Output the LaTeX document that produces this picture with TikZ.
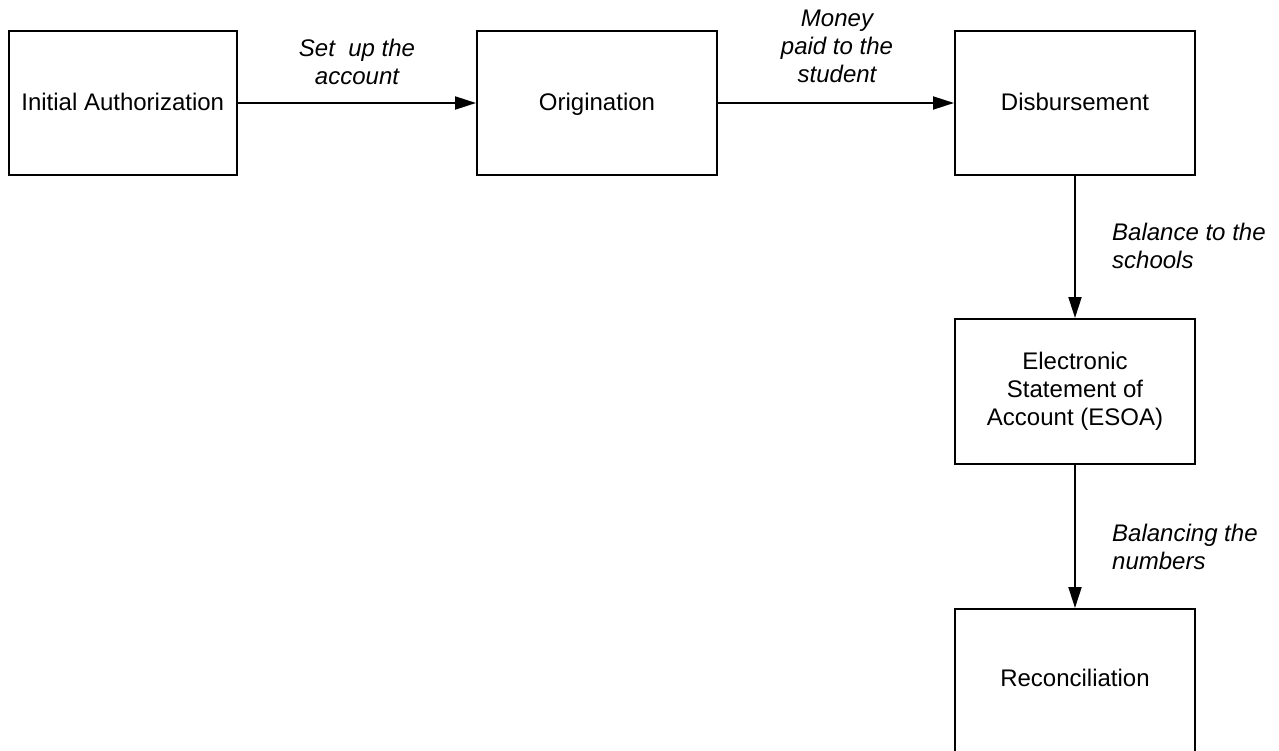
\documentclass[tikz,border=0pt]{standalone}
\usepackage{fontspec}
\setmainfont{Liberation Sans}
\usetikzlibrary{arrows.meta}
\begin{document}
\begin{tikzpicture}[x=1pt,y=-1pt,
  every node/.style={font=\fontsize{24}{28}\selectfont},
  box/.style={draw, line width=2pt, inner sep=0pt, minimum height=144pt, minimum width=240pt, align=center},
  oneline/.style={text height=17pt, text depth=1pt},
  lbl/.style={font=\fontsize{24}{28}\selectfont\itshape, inner sep=0pt},
  arr/.style={line width=2pt, -{Triangle[length=21pt,width=13pt]}}]
\useasboundingbox (0,0) rectangle (1279,751);
\clip (0,0) rectangle (1279,751);
\node[box, oneline, minimum width=228.5pt] (ia) at (122.75,103) {Initial Authorization};
\node[box, oneline] (or) at (597,103) {Origination};
\node[box, oneline] (di) at (1075,103) {Disbursement};
\node[box, minimum height=145pt] (es) at (1075,391.5) {Electronic\\Statement of\\Account (ESOA)};
\node[box, minimum height=145pt, text height=17pt, text depth=6.6pt] (re) at (1075,681.5) {Reconciliation};
\draw[arr] (ia.east) -- (or.west);
\draw[arr] (or.east) -- (di.west);
\draw[arr] (di.south) -- (es.north);
\draw[arr] (es.south) -- (re.north);
\node[lbl, align=center, anchor=base] (l1) at (357,85) {Set\ \ up the\\account};
\node[lbl, align=center, anchor=base] (l2) at (837,83) {Money\\paid to the\\student};
\node[lbl, align=left, anchor=base west] (l3) at (1112,269) {Balance to the\\schools};
\node[lbl, align=left, anchor=base west] (l4) at (1112,569) {Balancing the\\numbers};
\end{tikzpicture}
\end{document}
